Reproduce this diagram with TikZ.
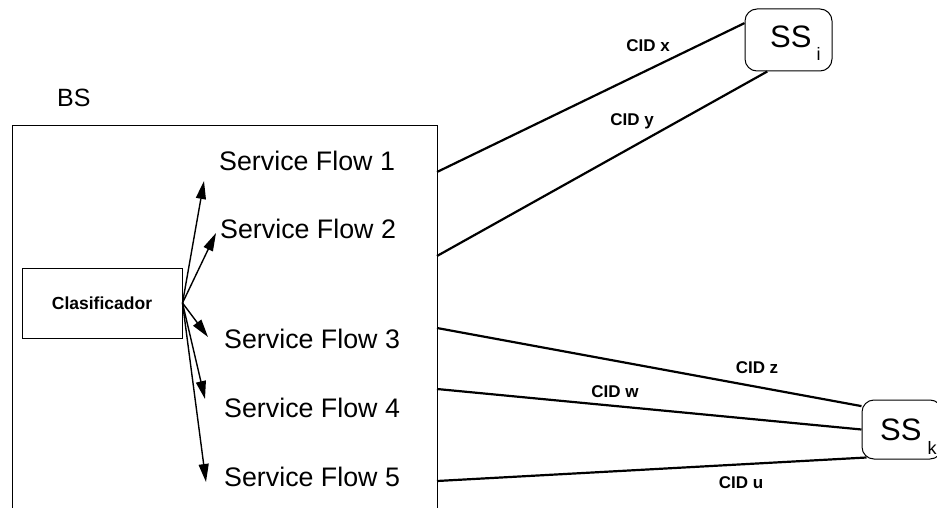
\documentclass[tikz,border=0pt]{standalone}
\usepackage{fontspec}
\setmainfont{Liberation Sans}
\usetikzlibrary{arrows.meta}
\begin{document}
\begin{tikzpicture}[x=1pt,y=-1pt,
  link/.style={line width=2.2pt},
  flowarrow/.style={line width=1.4pt,-{Triangle[length=18pt,width=10pt]}},
  flowtxt/.style={anchor=base west,inner sep=0pt,font=\fontsize{26.8}{30}\selectfont},
  cidtxt/.style={anchor=base,inner sep=0pt,font=\fontsize{17}{18}\selectfont\bfseries},
  sstxt/.style={anchor=base west,inner sep=0pt,font=\fontsize{31}{32}\selectfont},
  ssbox/.style={draw,line width=1pt,rounded corners=12pt,inner sep=0pt},
  plainbox/.style={draw,line width=1pt,inner sep=0pt}
]
\useasboundingbox (0,0) rectangle (937,508);
\clip (0,0) rectangle (937,508);

% BS enclosure
\node[plainbox,anchor=north west,minimum width=425pt,minimum height=420pt] (bs) at (12,125) {};
\node[anchor=base west,inner sep=0pt,font=\fontsize{25}{28}\selectfont] (bslbl) at (57,107) {BS};

% Clasificador
\node[plainbox,minimum width=160pt,minimum height=70pt,font=\fontsize{17.5}{20}\selectfont\bfseries] (cl) at (102,303) {Clasificador};

% Service flows
\node[flowtxt] (sf1) at (219,170) {Service Flow 1};
\node[flowtxt] (sf2) at (220,238) {Service Flow 2};
\node[flowtxt] (sf3) at (224,348) {Service Flow 3};
\node[flowtxt] (sf4) at (224,417) {Service Flow 4};
\node[flowtxt] (sf5) at (224,486) {Service Flow 5};

% arrow tips
\coordinate (t1) at (204,181);
\coordinate (t2) at (216,233);
\coordinate (t3) at (208,337);
\coordinate (t4) at (205,399);
\coordinate (t5) at (206,482);
\foreach \t in {t1,t2,t3,t4,t5} \draw[flowarrow] (cl.east) -- (\t);

% subscriber stations
\node[ssbox,minimum width=87pt,minimum height=62pt] (ssi) at (788.5,40) {};
\node[sstxt] (ssilbl) at (770,48) {SS\hspace{5pt}\raisebox{-13pt}{\fontsize{18}{18}\selectfont i}};
\node[ssbox,minimum width=80pt,minimum height=59pt] (ssk) at (902,429.5) {};
\node[sstxt] (ssklbl) at (880,440) {SS\hspace{6pt}\raisebox{-14pt}{\fontsize{18}{18}\selectfont k}};

% connection points on BS edge
\coordinate (e1) at (437,172);
\coordinate (e2) at (437,256);
\coordinate (e3) at (437,328);
\coordinate (e4) at (437,389);
\coordinate (e5) at (437,481);

\draw[link] (e1) -- (ssi.159);
\draw[link] (e2) -- (ssi.236);
\draw[link] (e3) -- (ssk.150);
\draw[link] (e4) -- (ssk.west);
\draw[link] (e5) -- ([xshift=5pt,yshift=2pt]ssk.south west);

% CID labels
\node[cidtxt] (cx) at (648,52) {CID x};
\node[cidtxt] (cy) at (632,126) {CID y};
\node[cidtxt] (cz) at (757,373) {CID z};
\node[cidtxt] (cw) at (615,397) {CID w};
\node[cidtxt] (cu) at (741,488) {CID u};
\end{tikzpicture}
\end{document}
